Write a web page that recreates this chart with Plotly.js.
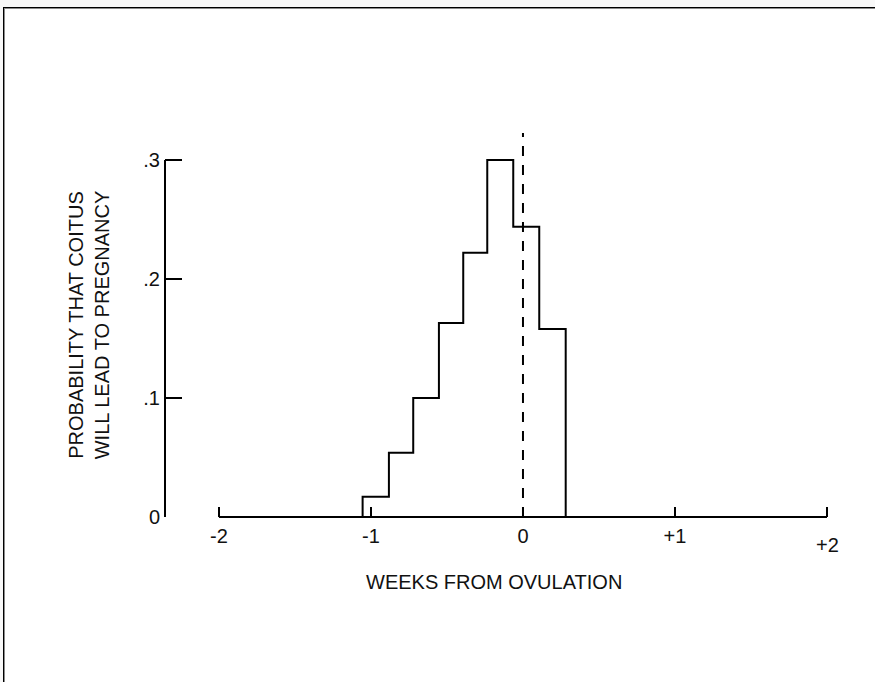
<!DOCTYPE html>
<html>
<head>
<meta charset="utf-8">
<script src="https://cdn.plot.ly/plotly-3.0.1.min.js"></script>
<style>
  html, body { margin: 0; padding: 0; width: 875px; height: 682px; overflow: hidden; background: #f8f8f8; }
  #frame { position: absolute; left: 3px; top: 7px; right: 0; bottom: 0;
           background: #ffffff; border-top: 1px solid #000; border-left: 1px solid #000;
           box-shadow: inset 1px 1px 0 0 #8a8a8a; }
  #chart { position: absolute; left: 0; top: 0; width: 875px; height: 682px; }
</style>
</head>
<body>
<div id="frame"></div>
<div id="chart"></div>
<script>
// Bin edges (weeks from ovulation) and probabilities per bin
const binEdges = [-1.055, -0.882, -0.722, -0.553, -0.393, -0.235, -0.064, 0.107, 0.281];
const probabilities = [0.017, 0.054, 0.100, 0.163, 0.222, 0.300, 0.244, 0.158];

const xTickValues = [-2, -1, 0, 1, 2];
const xTickLabels = ["-2", "-1", "0", "+1", ""];
const lastXTickLabel = "+2";
const yTickValues = [0, 0.1, 0.2, 0.3];
const yTickLabels = ["0", ".1", ".2", ".3"];

const xTitle = "WEEKS FROM OVULATION";
const yTitle = "PROBABILITY THAT COITUS<br>WILL LEAD TO PREGNANCY";

// step outline
const stepX = [binEdges[0]].concat(binEdges.slice(0, probabilities.length)).concat([binEdges[binEdges.length - 1]]);
const stepY = [0].concat(probabilities).concat([0]);

const FONT = "Liberation Sans, Arial, sans-serif";
const TXT = "#111";

const trace = {
  type: "scatter",
  mode: "lines",
  x: stepX,
  y: stepY,
  line: { shape: "hv", color: "#000", width: 2 },
  hoverinfo: "skip",
  showlegend: false
};

const layout = {
  width: 875,
  height: 682,
  margin: { l: 165, r: 35, t: 133, b: 165 },
  paper_bgcolor: "rgba(0,0,0,0)",
  plot_bgcolor: "rgba(0,0,0,0)",
  showlegend: false,
  font: { family: FONT, color: TXT, size: 20 },
  xaxis: {
    range: [-2.355, 2.0855],
    showline: false,
    showgrid: false,
    zeroline: false,
    ticks: "inside",
    ticklen: 10,
    tickwidth: 2,
    tickcolor: "#000",
    tickvals: xTickValues,
    ticktext: xTickLabels,
    tickfont: { family: FONT, size: 20, color: TXT },
    ticklabelstandoff: 5,
    automargin: false,
    fixedrange: true
  },
  yaxis: {
    range: [0, 0.32269],
    showline: false,
    showgrid: false,
    zeroline: false,
    ticks: "inside",
    ticklen: 17,
    tickwidth: 2,
    tickcolor: "#000",
    tickvals: yTickValues,
    ticktext: yTickLabels,
    tickfont: { family: FONT, size: 20, color: TXT },
    ticklabelstandoff: 4,
    title: { text: yTitle, font: { family: FONT, size: 20, color: TXT }, standoff: 28 },
    automargin: false,
    fixedrange: true
  },
  shapes: [
    // y axis line from 0 to .3
    { type: "line", xref: "paper", yref: "y", x0: 0, x1: 0, y0: 0, y1: 0.3,
      line: { color: "#000", width: 2 } },
    // x axis line from -2 to +2
    { type: "line", xref: "x", yref: "paper", x0: -2, x1: 2, y0: 0, y1: 0,
      line: { color: "#000", width: 2 } },
    // dashed ovulation line
    { type: "line", xref: "x", yref: "paper", x0: 0, x1: 0, y0: 0, y1: 1,
      line: { color: "#000", width: 2, dash: "10px,9px" } }
  ],
  annotations: [
    { text: lastXTickLabel, xref: "x", yref: "paper", x: 2, y: 0, yanchor: "top",
      showarrow: false, yshift: -15, font: { family: FONT, size: 20, color: TXT } },
    { text: xTitle, xref: "paper", yref: "paper", x: 0.4867, y: 0, yanchor: "middle",
      showarrow: false, yshift: -65, font: { family: FONT, size: 20, color: TXT } }
  ]
};

Plotly.newPlot("chart", [trace], layout, { staticPlot: true, displayModeBar: false });
</script>
</body>
</html>
